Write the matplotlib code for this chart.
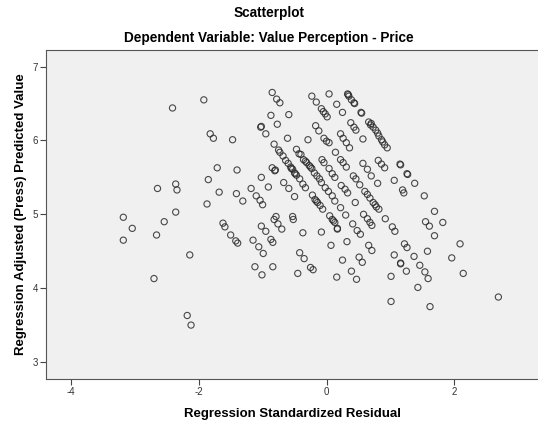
import matplotlib
matplotlib.use('Agg')
import matplotlib.pyplot as plt

plt.rcParams['font.family'] = ['Liberation Sans', 'DejaVu Sans']
plt.rcParams['axes.unicode_minus'] = False

# (standardized residual, adjusted predicted value)
outer_pts = [
    (-2.41, 6.44), (-2.645, 5.35), (-2.36, 5.41), (-2.34, 5.33), (-3.18, 4.96), (-3.04, 4.81),
    (-3.18, 4.65), (-2.54, 4.90), (-2.66, 4.72), (-2.36, 5.03), (-2.70, 4.13),
    (-2.14, 4.45), (-2.18, 3.63), (-2.12, 3.50),
    (-1.92, 6.55), (-1.82, 6.09), (-1.77, 6.03), (-1.47, 6.01),
    (-1.71, 5.63), (-1.40, 5.60), (-1.85, 5.47), (-1.68, 5.30), (-1.41, 5.28), (-1.31, 5.18),
    (-1.87, 5.14), (-1.18, 5.35), (-1.10, 5.25), (-1.04, 5.19), (-1.00, 5.13),
    (-1.62, 4.88), (-1.59, 4.83), (-1.50, 4.72), (-1.42, 4.64), (-1.39, 4.61),
]

lower_pts = [
    (-1.15, 4.65), (-1.06, 4.56), (-0.99, 4.47), (-0.95, 4.77), (-1.02, 4.84), (-0.87, 4.66),
    (-0.84, 4.62), (-0.70, 4.80), (-1.12, 4.29), (-1.01, 4.18), (-0.84, 4.29), (-0.45, 4.20),
    (-0.42, 4.48), (-0.35, 4.40), (-0.37, 4.75), (-0.25, 4.28), (-0.21, 4.25), (-0.08, 4.76),
    (0.07, 4.58), (0.16, 4.15), (0.17, 4.80), (0.25, 4.38), (0.32, 4.63), (0.39, 4.23),
    (0.47, 4.12), (0.48, 4.78), (0.53, 4.73), (0.51, 4.42), (0.56, 4.35), (0.66, 4.58),
    (0.71, 4.51), (1.01, 4.16), (1.01, 3.82), (1.06, 4.45), (1.07, 4.77), (1.16, 4.33),
    (1.16, 4.34), (1.22, 4.60), (1.26, 4.55), (1.25, 4.23), (1.37, 4.43), (1.43, 4.01),
    (1.46, 4.31), (1.54, 4.22), (1.59, 4.13), (1.58, 4.50), (1.62, 3.75), (1.69, 4.71),
    (1.96, 4.41), (2.09, 4.60), (2.14, 4.20), (2.69, 3.88),
]

upper_pts = [
    (-0.85, 6.65), (-0.78, 6.56), (-0.73, 6.51), (-0.87, 6.34), (-0.59, 6.35), (-0.77, 6.22),
    (-1.03, 6.18), (-1.02, 6.19), (-0.95, 6.09), (-0.61, 6.03), (-0.82, 5.95), (-0.75, 5.87),
    (-0.73, 5.84), (-0.68, 5.79), (-0.64, 5.73), (-0.60, 5.69), (-0.56, 5.64), (-0.53, 5.61),
    (-0.50, 5.56), (-0.47, 5.53), (-0.49, 5.55), (-0.55, 5.62), (-0.47, 5.88), (-0.43, 5.82),
    (-0.40, 5.81), (-0.85, 5.63), (-0.81, 5.59), (-0.80, 5.60), (-1.02, 5.50), (-0.91, 5.37),
    (-0.67, 5.43), (-0.59, 5.35), (-0.50, 5.24), (-0.79, 4.97), (-0.82, 4.93), (-0.76, 4.87),
    (-0.53, 4.97), (-0.52, 4.93),
]

center_pts = [
    (-0.23, 6.60), (0.04, 6.63), (0.33, 6.63), (0.35, 6.60), (0.39, 6.55), (0.43, 6.51),
    (0.44, 6.50), (0.34, 6.62), (-0.16, 6.52), (0.16, 6.49), (0.25, 6.38), (-0.08, 6.43),
    (-0.05, 6.39), (-0.02, 6.36), (0.01, 6.32), (0.54, 6.38), (0.55, 6.37),
    (0.66, 6.25), (0.69, 6.21), (0.70, 6.23), (0.73, 6.18), (0.77, 6.14), (0.80, 6.10),
    (0.82, 6.06), (0.86, 6.01), (0.88, 5.98), (0.91, 5.94), (0.95, 5.90),
    (0.38, 6.24), (0.43, 6.18), (0.46, 6.14), (0.57, 6.02),
    (-0.17, 6.20), (-0.12, 6.13), (-0.29, 6.01), (-0.04, 6.03), (0.00, 5.99), (0.04, 5.97),
    (0.22, 6.09), (0.26, 6.03), (0.31, 5.97), (0.36, 5.90), (0.14, 5.84),
    (-0.36, 5.74), (-0.31, 5.70), (-0.27, 5.66), (-0.23, 5.62), (-0.19, 5.56), (-0.15, 5.52),
    (-0.11, 5.48), (-0.33, 5.72), (-0.25, 5.64), (-0.42, 5.48), (-0.37, 5.41), (-0.33, 5.36),
    (-0.07, 5.74), (-0.04, 5.70), (0.04, 5.62), (0.09, 5.55), (0.13, 5.50),
    (-0.08, 5.43), (-0.02, 5.36), (0.03, 5.31),
    (-0.22, 5.26), (-0.18, 5.20), (-0.14, 5.16), (-0.10, 5.12), (-0.06, 5.07), (-0.16, 5.18),
    (0.09, 5.25), (0.13, 5.18), (0.22, 5.09), (0.22, 5.74), (0.26, 5.70), (0.31, 5.64),
    (0.42, 5.52), (0.46, 5.48), (0.52, 5.40), (0.23, 5.39), (0.29, 5.34), (0.33, 5.29),
    (0.57, 5.69), (0.64, 5.61), (0.70, 5.52), (0.81, 5.73), (0.86, 5.68), (0.91, 5.63),
    (0.80, 5.42), (0.60, 5.31), (0.64, 5.27), (0.68, 5.22), (0.73, 5.16), (0.78, 5.10),
    (0.82, 5.07), (0.76, 5.13), (0.45, 5.16), (0.30, 4.99), (0.41, 4.87),
    (0.58, 5.00), (0.64, 4.94), (0.68, 4.89), (0.71, 4.85), (0.92, 4.94), (1.03, 4.83),
    (1.15, 5.68), (1.16, 5.67), (1.26, 5.55), (1.27, 5.54), (1.06, 5.46), (1.19, 5.33),
    (1.21, 5.29), (1.38, 5.42), (1.53, 5.25), (1.69, 5.04), (1.55, 4.90), (1.61, 4.84),
    (1.82, 4.89), (0.05, 4.98), (0.09, 4.93), (0.13, 4.89), (0.17, 4.81), (0.11, 4.91),
]

x_ticks = [-4, -2, 0, 2]
y_ticks = [3, 4, 5, 6, 7]

all_pts = outer_pts + lower_pts + upper_pts + center_pts
resid = [p[0] for p in all_pts]
pred = [p[1] for p in all_pts]

fig = plt.figure(figsize=(5.38, 4.23), dpi=100)
ax = fig.add_axes([46 / 538, 1 - 379 / 423, 1 - 46 / 538, (379 - 50) / 423])
ax.set_facecolor('#f0f0f0')

ax.scatter(resid, pred, s=20, facecolors='none', edgecolors='#2a2a2a',
           linewidths=0.8, alpha=0.85)

ax.set_xlim(-4.39, 3.31)
ax.set_ylim(2.77, 7.225)
ax.set_xticks(x_ticks)
ax.set_yticks(y_ticks)
ax.tick_params(axis='both', direction='out', length=4.3, width=0.8, color='#444444',
               labelsize=7, labelcolor='#333333', pad=1.5)

for side in ['left', 'bottom', 'top']:
    ax.spines[side].set_color('#555555')
    ax.spines[side].set_linewidth(0.8)
ax.spines['right'].set_visible(False)

ax.set_xlabel('Regression Standardized Residual', fontsize=9.5, fontweight='bold', labelpad=8)
ax.set_ylabel('Regression Adjusted (Press) Predicted Value', fontsize=9.5, fontweight='bold', labelpad=4)

fig.text(0.5, 1 - 13 / 423, 'Scatterplot', ha='center', va='center', fontsize=9.8, fontweight='bold')
fig.text(0.5, 1 - 38 / 423, 'Dependent Variable: Value Perception - Price', ha='center',
         va='center', fontsize=9.8, fontweight='bold')

fig.savefig('out.png', dpi=100)
